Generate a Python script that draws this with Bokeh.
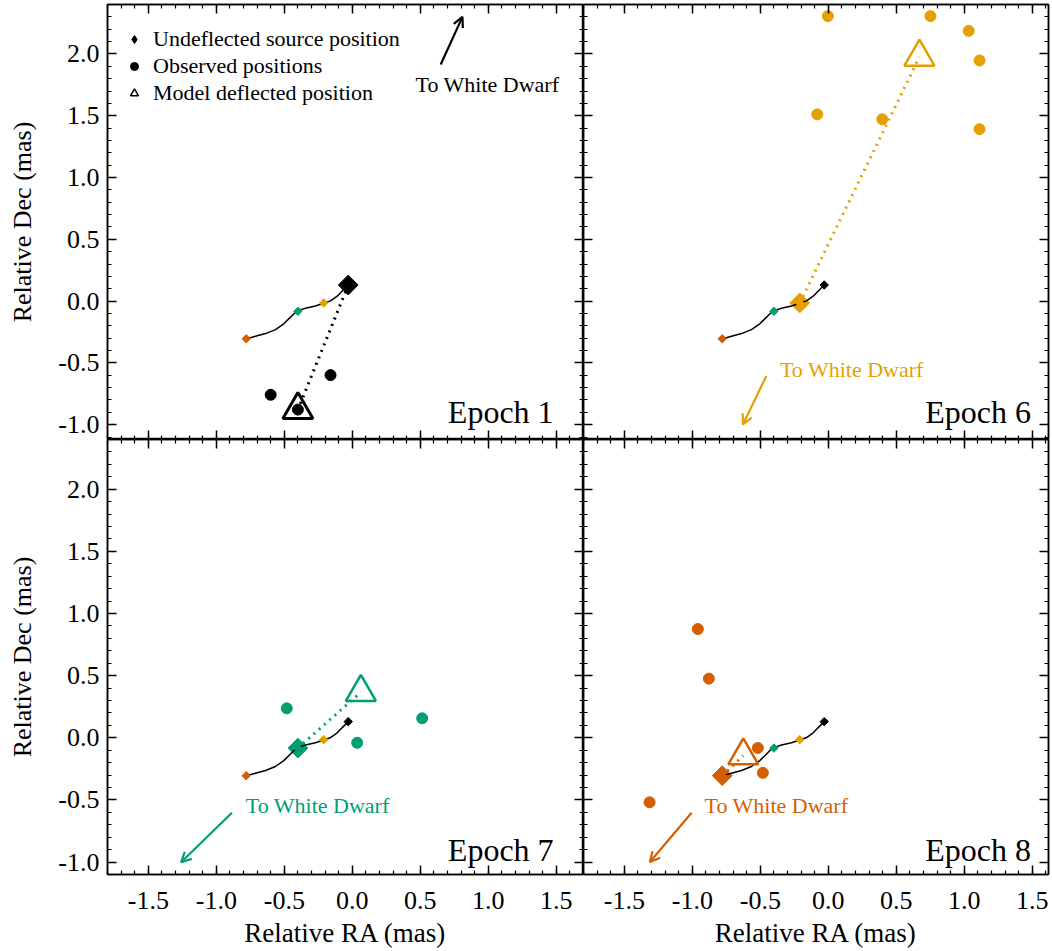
import numpy as np
from bokeh.plotting import figure
from bokeh.models import (LinearAxis, FixedTicker, NumeralTickFormatter, Range1d, Label,
                          Arrow, OpenHead, Legend, LegendItem, ColumnDataSource)
from bokeh.layouts import gridplot
from bokeh.embed import file_html
from bokeh.resources import INLINE

FONT = "Liberation Serif"

# ---------------- data ----------------
epochs = ["Epoch 1", "Epoch 6", "Epoch 7", "Epoch 8"]
colors = ["#000000", "#E69F00", "#009E73", "#D55E00"]

# undeflected source positions (mas) for each epoch
undefl_ra = [-0.03, -0.21, -0.40, -0.78]
undefl_dec = [0.13, -0.015, -0.083, -0.305]

# model deflected positions
model_ra = [-0.40, 0.67, 0.063, -0.625]
model_dec = [-0.88, 1.975, 0.366, -0.144]

# observed positions
obs_ra = [
    [-0.60, -0.16, -0.40],
    [-0.003, 0.751, 1.032, 1.112, -0.081, 0.397, 1.112],
    [-0.482, 0.514, 0.036],
    [-0.959, -0.878, -0.518, -0.481, -1.314],
]
obs_dec = [
    [-0.758, -0.599, -0.878],
    [2.306, 2.306, 2.187, 1.947, 1.511, 1.471, 1.391],
    [0.237, 0.157, -0.040],
    [0.875, 0.476, -0.082, -0.282, -0.519],
]

# source track (proper motion + parallax)
track_ra = [-0.780, -0.712, -0.638, -0.565, -0.504, -0.454, -0.418, -0.398,
            -0.344, -0.271, -0.210, -0.160, -0.111, -0.074, -0.030]
track_dec = [-0.306, -0.285, -0.263, -0.231, -0.184, -0.130, -0.090, -0.077,
             -0.058, -0.040, -0.018, 0.002, 0.040, 0.082, 0.130]

# "To White Dwarf" arrows and labels
arrow_start_ra = [0.65, -0.456, -0.885, -1.005]
arrow_start_dec = [1.915, -0.607, -0.603, -0.603]
arrow_end_ra = [0.81, -0.628, -1.259, -1.312]
arrow_end_dec = [2.30, -0.998, -1.002, -1.000]
wd_label_ra = [0.465, -0.356, -0.783, -0.91]
wd_label_dec = [1.756, -0.551, -0.548, -0.548]
wd_label_text = "To White Dwarf"

epoch_label_ra = [1.48, 1.49, 1.48, 1.49]
epoch_label_dec = [-0.90, -0.90, -0.90, -0.90]

x_major = [-1.5, -1.0, -0.5, 0.0, 0.5, 1.0, 1.5]
y_major = [-1.0, -0.5, 0.0, 0.5, 1.0, 1.5, 2.0]
x_minor = [round(v, 1) for v in np.arange(-1.8, 1.75, 0.1)]
y_minor = [round(v, 1) for v in np.arange(-1.1, 2.45, 0.1)]

legend_labels = ["Undeflected source position", "Observed positions", "Model deflected position"]

# ---------------- layout ----------------
FH = 435
FW_L = 476
FW_R = 465
PX_PER_MAS = 136.0
XMIN = -1.8
YMIN_TOP, YMIN_BOT, YMAX = -1.12, -1.1, 2.4


def style_axis(ax, show_labels, dim):
    ax.major_tick_in = 9
    ax.major_tick_out = 0
    ax.minor_tick_in = 4
    ax.minor_tick_out = 0
    ax.axis_line_width = 1.5
    ax.axis_line_color = "black"
    ax.major_tick_line_width = 1.5
    ax.minor_tick_line_width = 1.2
    ax.major_tick_line_color = "black"
    ax.minor_tick_line_color = "black"
    ax.formatter = NumeralTickFormatter(format="0.0")
    ax.major_label_text_font = FONT
    ax.major_label_text_color = "black"
    ax.axis_label_text_font = FONT
    ax.axis_label_text_font_style = "normal"
    ax.axis_label_text_font_size = "27px" if dim == "x" else "26px"
    ax.axis_label_text_color = "black"
    if show_labels:
        ax.major_label_text_font_size = "26px"
        ax.major_label_standoff = 17 if dim == "x" else 8
        ax.axis_label_standoff = 6 if dim == "x" else 18
    else:
        ax.major_label_text_font_size = "1px"
        ax.major_label_text_color = None
        ax.major_label_standoff = 0


def make_panel(i, left_labels, bottom_labels, fw, top, right):
    c = colors[i]
    ymin = YMIN_TOP if top else YMIN_BOT
    p = figure(frame_width=fw, frame_height=FH,
               x_range=Range1d(XMIN, XMIN + fw / PX_PER_MAS), y_range=Range1d(ymin, YMAX),
               output_backend="svg", toolbar_location=None,
               x_axis_location=None, y_axis_location=None,
               min_border=0, min_border_top=4 if top else 0,
               min_border_right=2 if right else 0,
               min_border_left=107 if left_labels else 0,
               background_fill_color="white", border_fill_color="white")
    p.grid.visible = False
    p.outline_line_color = "black"
    p.outline_line_width = 1.5

    for side in ["below", "above"]:
        show = (side == "below" and bottom_labels)
        ax = LinearAxis(ticker=FixedTicker(ticks=x_major, minor_ticks=x_minor))
        style_axis(ax, show, "x")
        if show:
            ax.axis_label = "Relative RA (mas)"
        p.add_layout(ax, side)
    for side in ["left", "right"]:
        show = (side == "left" and left_labels)
        ax = LinearAxis(ticker=FixedTicker(ticks=y_major, minor_ticks=y_minor))
        style_axis(ax, show, "y")
        if show:
            ax.axis_label = "Relative Dec (mas)"
        p.add_layout(ax, side)

    # dotted line from undeflected to model deflected position
    p.segment(x0=[undefl_ra[i]], y0=[undefl_dec[i]], x1=[model_ra[i]], y1=[model_dec[i]],
              line_color=c, line_width=3, line_dash="2 5")
    # big diamond for the current epoch
    p.scatter([undefl_ra[i]], [undefl_dec[i]], marker="square", angle=np.pi / 4,
              size=14, fill_color=c, line_color=c)
    # track
    p.line(track_ra, track_dec, line_color="black", line_width=1.5)
    # small diamonds for all epochs
    src = ColumnDataSource(dict(x=undefl_ra, y=undefl_dec, c=colors))
    p.scatter("x", "y", source=src, marker="square", angle=np.pi / 4, size=6,
              fill_color="c", line_color="c")
    # observed positions
    p.scatter(obs_ra[i], obs_dec[i], marker="circle", size=11, fill_color=c, line_color=c)
    # model deflected position
    p.scatter([model_ra[i]], [model_dec[i]], marker="triangle", size=30,
              fill_color=None, line_color=c, line_width=3 if i == 0 else 2.5)

    # arrow to white dwarf
    p.add_layout(Arrow(end=OpenHead(size=10, line_color=c, line_width=2.2),
                       x_start=arrow_start_ra[i], y_start=arrow_start_dec[i],
                       x_end=arrow_end_ra[i], y_end=arrow_end_dec[i],
                       line_color=c, line_width=2.2))
    p.add_layout(Label(x=wd_label_ra[i], y=wd_label_dec[i], text=wd_label_text,
                       text_font=FONT, text_font_size="22px", text_color=c,
                       text_align="left", text_baseline="middle"))
    p.add_layout(Label(x=epoch_label_ra[i], y=epoch_label_dec[i], text=epochs[i],
                       text_font=FONT, text_font_size="32px", text_color="black",
                       text_align="right", text_baseline="alphabetic"))
    return p


p1 = make_panel(0, True, False, FW_L, True, False)
p2 = make_panel(1, False, False, FW_R, True, True)
p3 = make_panel(2, True, True, FW_L, False, False)
p4 = make_panel(3, False, True, FW_R, False, True)

# legend (top-left panel): hidden copies of the epoch-1 symbols supply the key glyphs
r_d = p1.scatter([undefl_ra[0]], [undefl_dec[0]], marker="diamond", size=8,
                 fill_color="black", line_color="black", visible=False)
r_c = p1.scatter([obs_ra[0][0]], [obs_dec[0][0]], marker="circle", size=8,
                 fill_color="black", line_color="black", visible=False)
r_t = p1.scatter([model_ra[0]], [model_dec[0]], marker="triangle", size=10,
                 fill_color=None, line_color="black", line_width=1.5, visible=False)
legend = Legend(items=[LegendItem(label=legend_labels[0], renderers=[r_d]),
                       LegendItem(label=legend_labels[1], renderers=[r_c]),
                       LegendItem(label=legend_labels[2], renderers=[r_t])],
                location=(17, FH - 102), border_line_color=None, background_fill_alpha=0,
                label_text_font=FONT, label_text_font_size="22px", label_text_color="black",
                glyph_width=20, glyph_height=20, label_height=20, label_standoff=9,
                spacing=1, padding=0, margin=0, click_policy="none")
p1.add_layout(legend)

grid = gridplot([[p1, p2], [p3, p4]], toolbar_location=None)
open("out.html", "w").write(file_html(grid, INLINE))
